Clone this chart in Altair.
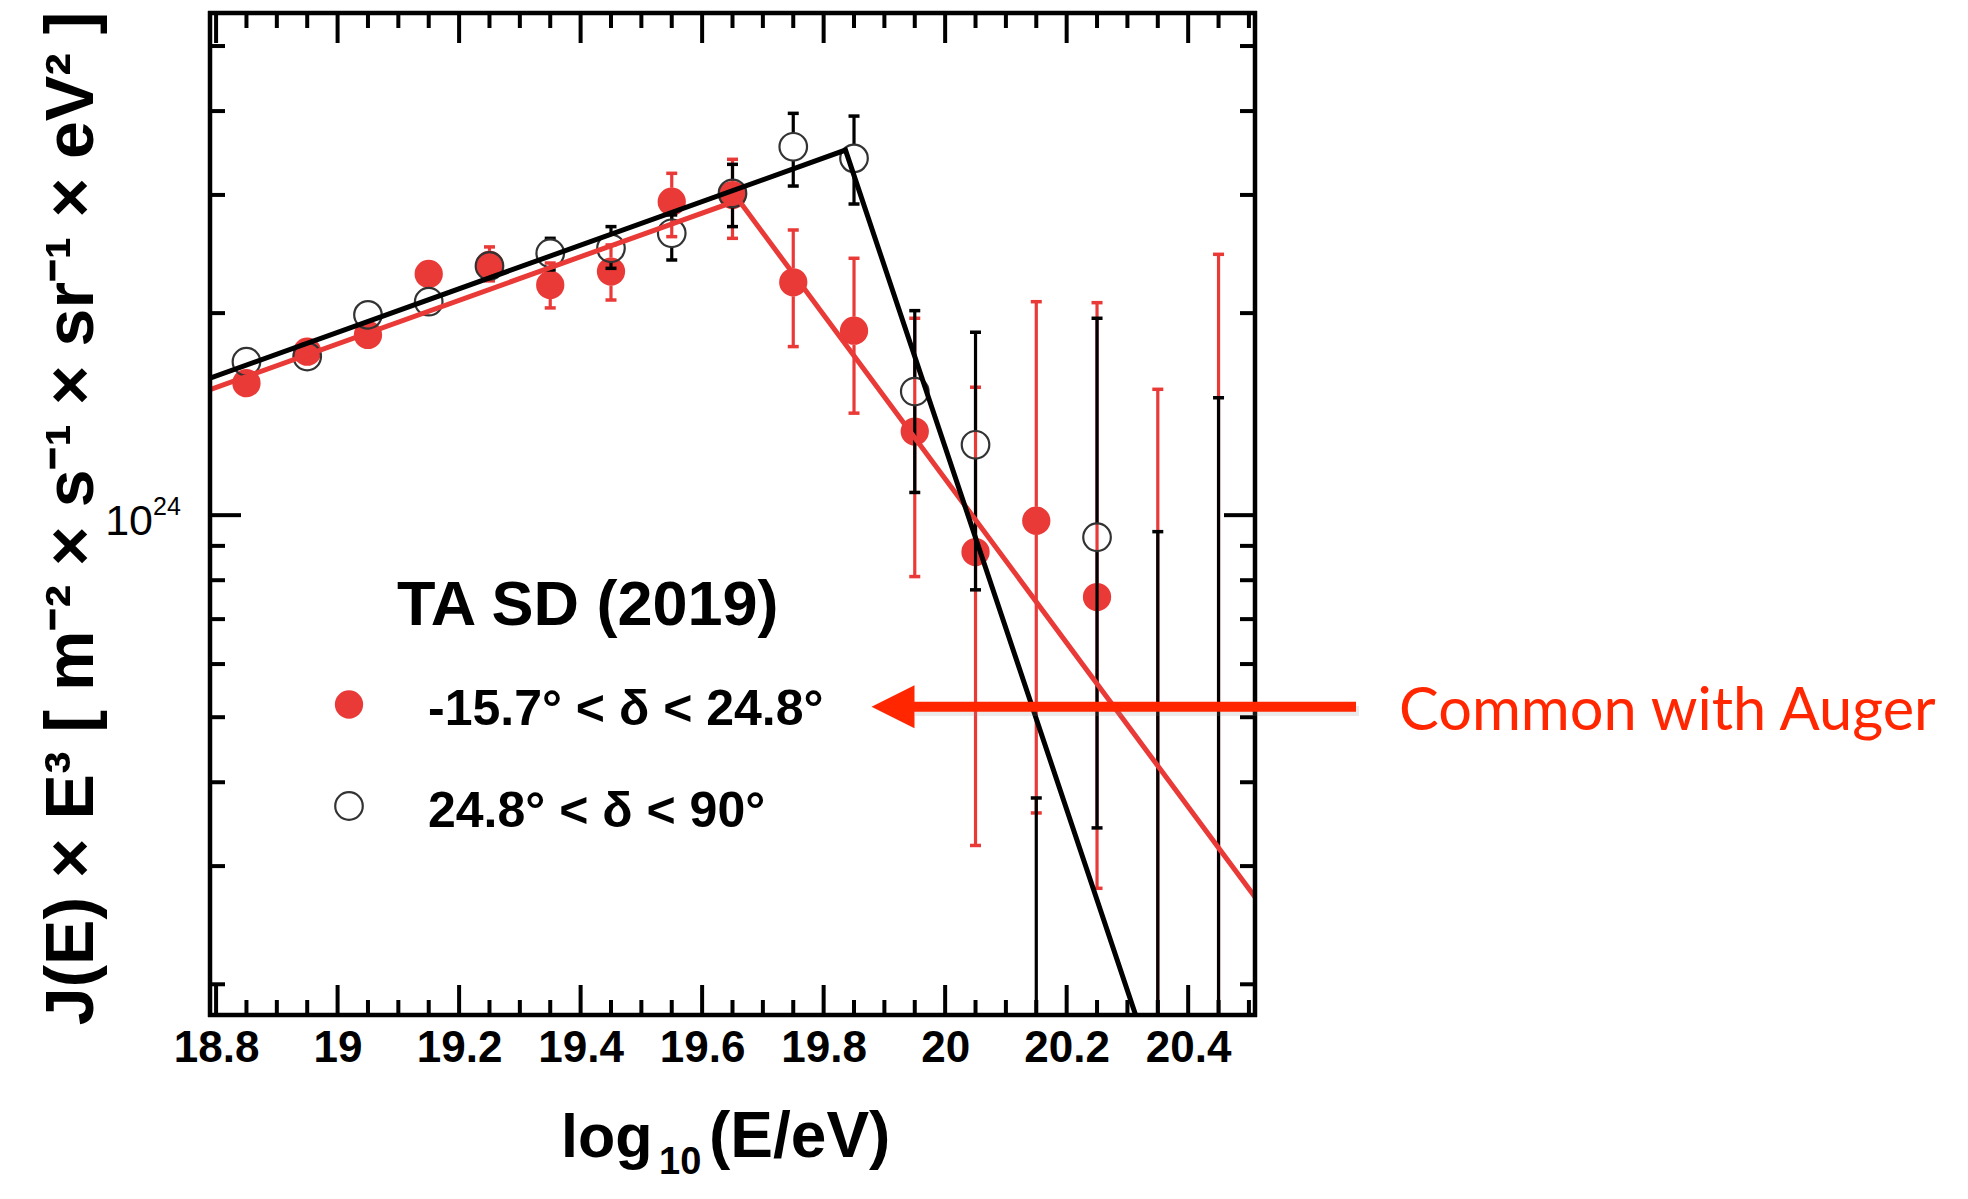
import altair as alt
import pandas as pd

# ---------------- values ----------------
E_BINS = [18.85, 18.95, 19.05, 19.15, 19.25, 19.35, 19.45, 19.55, 19.65,
          19.75, 19.85, 19.95, 20.05, 20.15, 20.25, 20.35, 20.45]

# -15.7 < dec < 24.8  (red, filled)
RED_FLUX = [1.573e24, 1.752e24, 1.856e24, 2.288e24, 2.360e24, 2.203e24, 2.306e24, 2.931e24, 2.999e24,
            2.223e24, 1.883e24, 1.332e24, 0.881e24, 0.981e24, 0.755e24, None, None]
RED_UP = [1.616e24, 1.799e24, 1.914e24, 2.400e24, 2.510e24, 2.375e24, 2.527e24, 3.231e24, 3.390e24,
          2.660e24, 2.414e24, 1.965e24, 1.551e24, 2.080e24, 2.073e24, 1.540e24, 2.447e24]
RED_LOW = [1.526e24, 1.703e24, 1.799e24, 2.188e24, 2.234e24, 2.036e24, 2.092e24, 2.600e24, 2.585e24,
           1.783e24, 1.419e24, 0.810e24, 0.322e24, 0.360e24, 0.278e24, None, None]

# 24.8 < dec < 90  (black, open)
BLK_FLUX = [1.693e24, 1.723e24, 1.988e24, 2.080e24, 2.351e24, 2.456e24, 2.498e24, 2.630e24, 3.016e24,
            3.539e24, 3.401e24, 1.528e24, 1.273e24, None, 0.927e24, None, None]
BLK_UP = [1.739e24, 1.769e24, 2.043e24, 2.144e24, 2.449e24, 2.585e24, 2.691e24, 2.801e24, 3.332e24,
          3.969e24, 3.932e24, 2.017e24, 1.873e24, 0.379e24, 1.965e24, 0.945e24, 1.496e24]
BLK_LOW = [1.652e24, 1.680e24, 1.934e24, 2.021e24, 2.256e24, 2.319e24, 2.332e24, 2.400e24, 2.691e24,
           3.093e24, 2.908e24, 1.081e24, 0.774e24, None, 0.342e24, None, None]

# broken power-law fits (start, break, end)
FIT_RED_E = [18.79, 19.66, 20.51]
FIT_RED_FLUX = [1.538e24, 2.948e24, 2.698e23]
FIT_BLK_E = [18.79, 19.836, 20.334]
FIT_BLK_FLUX = [1.600e24, 3.499e24, 1.585e23]

X_LABELS = [18.8, 19.0, 19.2, 19.4, 19.6, 19.8, 20.0, 20.2, 20.4]
X_MINOR = [18.85, 18.9, 18.95, 19.05, 19.1, 19.15, 19.25, 19.3, 19.35, 19.45, 19.5, 19.55,
           19.65, 19.7, 19.75, 19.85, 19.9, 19.95, 20.05, 20.1, 20.15, 20.25, 20.3, 20.35,
           20.45, 20.5]
Y_MAJOR = [1e24]
Y_MINOR = [2e23, 3e23, 4e23, 5e23, 6e23, 7e23, 8e23, 9e23, 2e24, 3e24, 4e24, 5e24]

LEGEND_TITLE = "TA SD (2019)"
LEGEND_RED = "-15.7° < δ < 24.8°"
LEGEND_BLK = "24.8° < δ < 90°"
NOTE = "Common with Auger"
Y_TITLE = "J(E) × E³ [ m⁻² × s⁻¹ × sr⁻¹ × eV² ]"

# ---------------- layout / style ----------------
X_MIN, X_MAX = 18.79, 20.51
Y_MIN, Y_MAX = 1.8e23, 5.6e24
W, H = 1045, 1002
RED = "#e93a37"
ARROW = "#ff2600"
FONT = "Liberation Sans"
GAP = 1.049  # marker radius expressed as a flux factor (error bars start at the marker edge)

xs = alt.Scale(domain=[X_MIN, X_MAX], nice=False, zero=False)
ys = alt.Scale(type="log", domain=[Y_MIN, Y_MAX], nice=False)

x_axis = alt.Axis(values=X_LABELS, format="~g", labelFont=FONT, labelFontSize=44,
                  labelFontWeight="bold", labelColor="black", labelPadding=11,
                  labelFlush=False, labelOverlap=False, ticks=False, domain=False, grid=False,
                  title=None)
y_axis = alt.Axis(values=Y_MAJOR, labels=False, ticks=False, domain=False, grid=False,
                  title=Y_TITLE, titleFont=FONT,
                  titleFontSize=68, titleFontWeight="bold", titleColor="black",
                  titleAngle=270, titleX=-138, titleY=505, titleBaseline="middle",
                  titleAlign="center")


def X(field):
    return alt.X(field, type="quantitative", scale=xs, axis=x_axis)


def Y(field):
    return alt.Y(field, type="quantitative", scale=ys, axis=y_axis)


def err_tables(flux, up, low):
    segs, caps = [], []
    for e, f, u, l in zip(E_BINS, flux, up, low):
        lo_end = l if l is not None else Y_MIN * 0.5
        if f is None:
            segs.append({"E": e, "a": u, "b": lo_end})
            caps.append({"E": e, "v": u})
            continue
        if u > f * GAP:
            segs.append({"E": e, "a": u, "b": f * GAP})
            caps.append({"E": e, "v": u})
        if lo_end < f / GAP:
            segs.append({"E": e, "a": f / GAP, "b": lo_end})
            if l is not None:
                caps.append({"E": e, "v": l})
    return pd.DataFrame(segs), pd.DataFrame(caps)


def pt_table(flux):
    return pd.DataFrame([{"E": e, "v": f} for e, f in zip(E_BINS, flux) if f is not None])


layers = []

for flux, up, low, col, filled in [(RED_FLUX, RED_UP, RED_LOW, RED, True),
                                   (BLK_FLUX, BLK_UP, BLK_LOW, "black", False)]:
    segs, caps = err_tables(flux, up, low)
    layers.append(alt.Chart(segs).mark_rule(color=col, strokeWidth=3.2, clip=True)
                  .encode(x=X("E"), y=Y("a"), y2="b"))
    layers.append(alt.Chart(caps).mark_tick(orient="horizontal", size=11, thickness=3.5,
                                            color=col, opacity=1, clip=True)
                  .encode(x=X("E"), y=Y("v")))
    if filled:
        layers.append(alt.Chart(pt_table(flux)).mark_point(shape="circle", filled=True, size=800,
                                                           color=col, opacity=1, strokeWidth=0)
                      .encode(x=X("E"), y=Y("v")))
    else:
        layers.append(alt.Chart(pt_table(flux)).mark_point(shape="circle", filled=False, size=760,
                                                           color="#333333", strokeWidth=2.2, opacity=1)
                      .encode(x=X("E"), y=Y("v")))

# fits
layers.append(alt.Chart(pd.DataFrame({"E": FIT_RED_E, "v": FIT_RED_FLUX}))
              .mark_line(color=RED, strokeWidth=5, clip=True).encode(x=X("E"), y=Y("v")))
layers.append(alt.Chart(pd.DataFrame({"E": FIT_BLK_E, "v": FIT_BLK_FLUX}))
              .mark_line(color="black", strokeWidth=5, clip=True).encode(x=X("E"), y=Y("v")))

# frame ticks (ROOT style, pointing inward on all four sides)
for vals, ln in [(X_LABELS, 30), (X_MINOR, 15)]:
    df = pd.DataFrame({"v": vals})
    layers.append(alt.Chart(df).mark_rule(color="black", strokeWidth=4)
                  .encode(x=X("v"), y=alt.value(H), y2=alt.value(H - ln)))
    layers.append(alt.Chart(df).mark_rule(color="black", strokeWidth=4)
                  .encode(x=X("v"), y=alt.value(0), y2=alt.value(ln)))
for vals, ln in [(Y_MAJOR, 31), (Y_MINOR, 15)]:
    df = pd.DataFrame({"v": vals})
    layers.append(alt.Chart(df).mark_rule(color="black", strokeWidth=4)
                  .encode(y=Y("v"), x=alt.value(0), x2=alt.value(ln)))
    layers.append(alt.Chart(df).mark_rule(color="black", strokeWidth=4)
                  .encode(y=Y("v"), x=alt.value(W), x2=alt.value(W - ln)))

one = pd.DataFrame({"k": [0]})
# frame
for enc in [dict(x=alt.value(-2), x2=alt.value(W + 2), y=alt.value(0)),
            dict(x=alt.value(-2), x2=alt.value(W + 2), y=alt.value(H)),
            dict(y=alt.value(-2), y2=alt.value(H + 2), x=alt.value(0)),
            dict(y=alt.value(-2), y2=alt.value(H + 2), x=alt.value(W))]:
    layers.append(alt.Chart(one).mark_rule(color="black", strokeWidth=4.5).encode(**enc))

# y label 10^24 (tied to the scale)
lab = pd.DataFrame({"v": Y_MAJOR, "base": ["10"], "exp": ["24"]})
layers.append(alt.Chart(lab).mark_text(align="right", baseline="middle", dy=7, font=FONT,
                                       fontSize=43, color="black")
              .encode(y=Y("v"), x=alt.value(-57), text="base:N"))
layers.append(alt.Chart(lab).mark_text(align="left", baseline="middle", dy=-8, font=FONT,
                                       fontSize=25, color="black")
              .encode(y=Y("v"), x=alt.value(-57), text="exp:N"))


def text_layer(txt, x, y, **kw):
    return (alt.Chart(pd.DataFrame({"t": [txt]}))
            .mark_text(align="left", baseline="alphabetic", **kw)
            .encode(x=alt.value(x), y=alt.value(y), text="t:N"))


# x title: log_10(E/eV) with a real subscript
layers.append(text_layer("log", 351, 1144, font=FONT, fontSize=61, fontWeight="bold", color="black"))
layers.append(text_layer("10", 449, 1161, font=FONT, fontSize=38, fontWeight="bold", color="black"))
layers.append(text_layer("(E/eV)", 499, 1144, font=FONT, fontSize=64, fontWeight="bold", color="black"))

# legend
layers.append(text_layer(LEGEND_TITLE, 187, 612, font=FONT, fontSize=63, fontWeight="bold", color="black"))
layers.append(text_layer(LEGEND_RED, 218, 712, font=FONT, fontSize=50, fontWeight="bold", color="black"))
layers.append(text_layer(LEGEND_BLK, 218, 814, font=FONT, fontSize=50, fontWeight="bold", color="black"))
layers.append(alt.Chart(one).mark_point(shape="circle", filled=True, size=800, color=RED, opacity=1,
                                        strokeWidth=0)
              .encode(x=alt.value(139), y=alt.value(691.5)))
layers.append(alt.Chart(one).mark_point(shape="circle", filled=False, size=760, color="#333333",
                                        strokeWidth=2.2, opacity=1)
              .encode(x=alt.value(139), y=alt.value(793)))

# annotation arrow
layers.append(alt.Chart(one).mark_rule(color="#888888", strokeWidth=10, opacity=0.18)
              .encode(x=alt.value(705), x2=alt.value(1149), y=alt.value(698)))
layers.append(alt.Chart(one).mark_rule(color=ARROW, strokeWidth=10)
              .encode(x=alt.value(695), x2=alt.value(1146), y=alt.value(693.7)))
layers.append(alt.Chart(one).mark_point(shape="M -1 0 L 1 -1 L 1 1 Z", filled=True, size=1849,
                                        color=ARROW, opacity=1, strokeWidth=0)
              .encode(x=alt.value(683), y=alt.value(693.7)))
layers.append(text_layer(NOTE, 1189, 717, font="Lato", fontSize=59.5, color=ARROW))

chart = (alt.layer(*layers)
         .properties(width=W, height=H, autosize=alt.AutoSizeParams(type="none"),
                     padding={"left": 202, "top": 5, "right": 690, "bottom": 170})
         .configure_view(stroke=None)
         .configure(background="white"))

chart.save("out.html", embed_options={"renderer": "svg", "actions": False})
